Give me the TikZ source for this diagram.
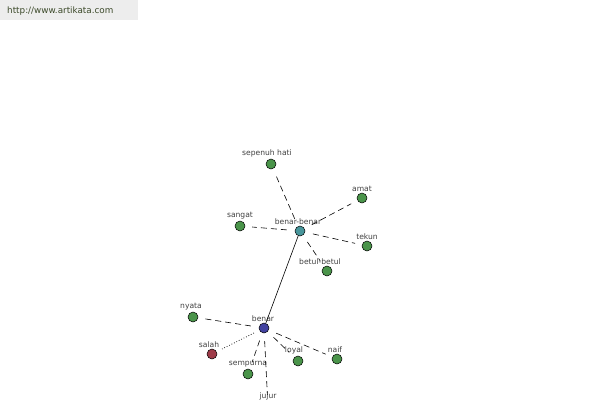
\documentclass[tikz,border=0pt]{standalone}
\usepackage{xcolor}
\usepackage{fontspec}
\setmainfont{DejaVu Sans}

\definecolor{leafgreen}{RGB}{74,148,74}
\definecolor{hubteal}{RGB}{72,150,155}
\definecolor{hubblue}{RGB}{66,66,160}
\definecolor{oppred}{RGB}{158,58,72}
\definecolor{urltext}{RGB}{60,74,42}

\tikzset{
  wdot/.style={circle, draw=black, line width=0.5pt, inner sep=0pt, minimum size=10pt},
  wlbl/.style={font=\fontsize{7.6}{9}\selectfont, text=black!75, inner sep=1pt},
  syn/.style={dashed, dash pattern=on 6pt off 4pt, line width=0.6pt, shorten <=8pt, shorten >=7pt},
  ant/.style={dotted, line width=0.7pt, shorten <=6pt, shorten >=6pt},
}

\begin{document}
\begin{tikzpicture}[x=1pt,y=1pt,yscale=-1,xscale=1]
\useasboundingbox (0,0) rectangle (600,400);
\clip (0,0) rectangle (600,400);
\fill[white] (0,0) rectangle (600,400);

% Header box
\fill[black!7] (0,0) rectangle (138,20);
\node[anchor=west, inner sep=0pt, text=urltext, font=\fontsize{8.8}{10}\selectfont] (url) at (7,11) {http://www.artikata.com};

% Hub nodes
\node[wdot, fill=hubteal, label={[wlbl, xshift=-2pt]above:benar-benar}] (benarbenar) at (300,231) {};
\node[wdot, fill=hubblue, label={[wlbl, xshift=-1pt]above:benar}] (benar) at (264,328) {};

% Words around benar-benar
\node[wdot, fill=leafgreen, label={[wlbl, xshift=-4pt]above:sepenuh hati}] (sepenuh) at (271,164) {};
\node[wdot, fill=leafgreen, label={[wlbl]above:amat}] (amat) at (362,198) {};
\node[wdot, fill=leafgreen, label={[wlbl]above:sangat}] (sangat) at (240,226) {};
\node[wdot, fill=leafgreen, label={[wlbl]above:tekun}] (tekun) at (367,246) {};
\node[wdot, fill=leafgreen, label={[wlbl, xshift=-7pt]above:betul-betul}] (betul) at (327,271) {};

% Words around benar
\node[wdot, fill=leafgreen, label={[wlbl, xshift=-2pt]above:nyata}] (nyata) at (193,317) {};
\node[wdot, fill=oppred, label={[wlbl, xshift=-3pt]above:salah}] (salah) at (212,354) {};
\node[wdot, fill=leafgreen, label={[wlbl]above:sempurna}] (sempurna) at (248,374) {};
\node[wdot, fill=leafgreen, label={[wlbl, xshift=-4pt]above:loyal}] (loyal) at (298,361) {};
\node[wdot, fill=leafgreen, label={[wlbl, xshift=-2pt]above:naif}] (naif) at (337,359) {};
\node[wdot, fill=leafgreen, label={[wlbl]above:jujur}] (jujur) at (268,407) {};

% Connectors
\draw[line width=0.6pt] (benarbenar) -- (benar);
\foreach \w in {sepenuh,amat,sangat,tekun,betul}
  \draw[syn] (benarbenar) -- (\w);
\foreach \w in {nyata,sempurna,loyal,naif,jujur}
  \draw[syn] (benar) -- (\w);
\draw[ant] (benar) -- (salah);

\end{tikzpicture}
\end{document}
